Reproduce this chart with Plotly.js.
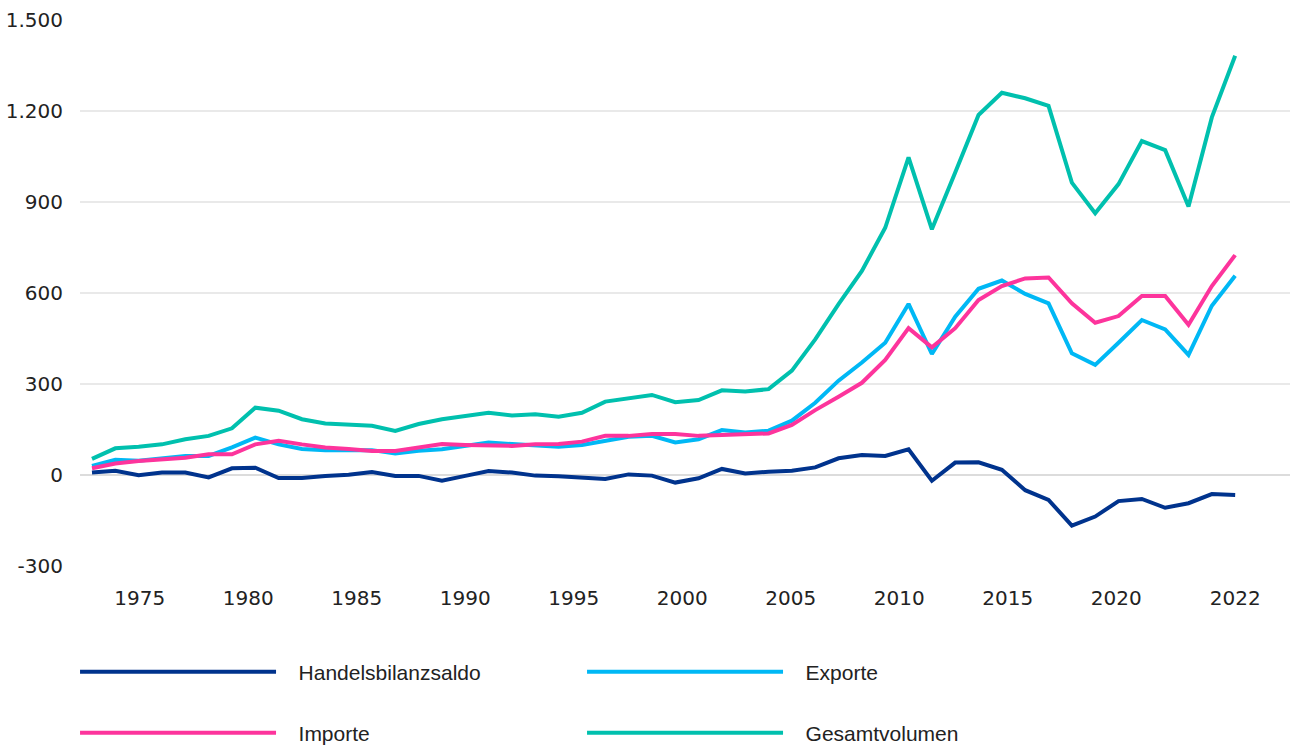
<!DOCTYPE html>
<html>
<head>
<meta charset="utf-8">
<script src="https://cdn.plot.ly/plotly-3.0.1.min.js"></script>
<style>
html,body{margin:0;padding:0;background:#fff;}
#chart{width:1296px;height:745px;}
</style>
</head>
<body>
<div id="chart"></div>
<script>
// Years 1973..2022
const years = [1973,1974,1975,1976,1977,1978,1979,1980,1981,1982,1983,1984,1985,1986,1987,1988,1989,1990,1991,1992,1993,1994,1995,1996,1997,1998,1999,2000,2001,2002,2003,2004,2005,2006,2007,2008,2009,2010,2011,2012,2013,2014,2015,2016,2017,2018,2019,2020,2021,2022];

const handelsbilanzsaldo = [8,14,-1,8,8,-8,22,24,-10,-10,-3,1,10,-3,-3,-19,-3,13,8,-2,-4,-8,-13,2,-2,-25,-11,20,5,11,14,25,55,66,63,85,-19,41,42,17,-50,-82,-167,-137,-86,-79,-108,-93,-63,-66];
const exporte = [30,50,47,55,63,63,91,123,101,86,82,82,82,71,80,85,96,107,102,99,93,99,113,126,129,107,118,148,140,146,179,238,311,371,436,564,399,522,614,641,597,566,401,363,436,511,480,396,558,657];
const importe = [22,38,46,50,57,68,68,101,113,101,91,86,79,79,90,102,99,97,96,101,102,110,129,129,135,135,129,132,135,137,165,214,258,304,379,484,421,484,577,623,648,651,566,502,524,590,590,495,623,725];
const gesamtvolumen = [53,88,93,101,118,129,154,222,212,184,170,167,162,145,168,184,195,205,196,200,192,205,242,253,264,240,247,279,275,283,344,447,563,673,815,1047,810,997,1187,1260,1242,1217,964,863,959,1101,1071,885,1179,1382];

const xTickLabels = ["1975","1980","1985","1990","1995","2000","2005","2010","2015","2020","2022"];
const yTickValues = [-300,0,300,600,900,1200,1500];
const yTickLabels = ["-300","0","300","600","900","1.200","1.500"];
const seriesNames = ["Handelsbilanzsaldo","Exporte","Importe","Gesamtvolumen"];

const colors = ["#00338D","#00B8F5","#FD349C","#00C0AE"];
const legends = ["legend","legend","legend2","legend2"];
const pad = "\u00a0\u00a0\u00a0";
const data = [handelsbilanzsaldo, exporte, importe, gesamtvolumen].map((y,i)=>({
  type:"scatter", mode:"lines", x:years, y:y, name:pad + seriesNames[i],
  line:{color:colors[i], width:4}, legend:legends[i], hoverinfo:"x+y"
}));

// tick label positions (in year units of the axis), evenly spaced as in the original
const tickPos = [1975.05,1979.7,1984.35,1989.0,1993.65,1998.3,2002.95,2007.6,2012.25,2016.9,2022.0];

const font = {family:"DejaVu Sans, Arial, sans-serif", size:20, color:"#222"};
const legendFont = {family:"Liberation Sans, Arial, sans-serif", size:21, color:"#222"};

const legendBase = {orientation:"h", xref:"container", yref:"container", x:0.0579, xanchor:"left",
  yanchor:"middle", entrywidth:296, entrywidthmode:"pixels", itemwidth:196,
  font:legendFont, bgcolor:"rgba(0,0,0,0)", borderwidth:0};

const layout = {
  width:1296, height:745,
  margin:{l:80, r:6, t:20, b:179, autoexpand:false},
  paper_bgcolor:"#fff", plot_bgcolor:"#fff",
  separators:",.",
  font:font,
  xaxis:{
    range:[1972.486, 2024.35], showgrid:false, zeroline:false, showline:false,
    tickmode:"array", tickvals:tickPos, ticktext:xTickLabels, ticks:"",
    tickfont:font, ticklabelstandoff:18, automargin:false
  },
  yaxis:{
    range:[-300,1500], tickmode:"array", tickvals:yTickValues, ticktext:yTickLabels,
    showgrid:true, gridcolor:"#e9e9e9", gridwidth:1.5,
    zeroline:true, zerolinecolor:"#dcdcdc", zerolinewidth:2.5, showline:false, ticks:"",
    tickfont:font, ticklabelstandoff:16, automargin:false
  },
  showlegend:true,
  legend:Object.assign({}, legendBase, {y:1-672/745}),
  legend2:Object.assign({}, legendBase, {y:1-733/745})
};

Plotly.newPlot("chart", data, layout, {displayModeBar:false, staticPlot:true});
</script>
</body>
</html>
